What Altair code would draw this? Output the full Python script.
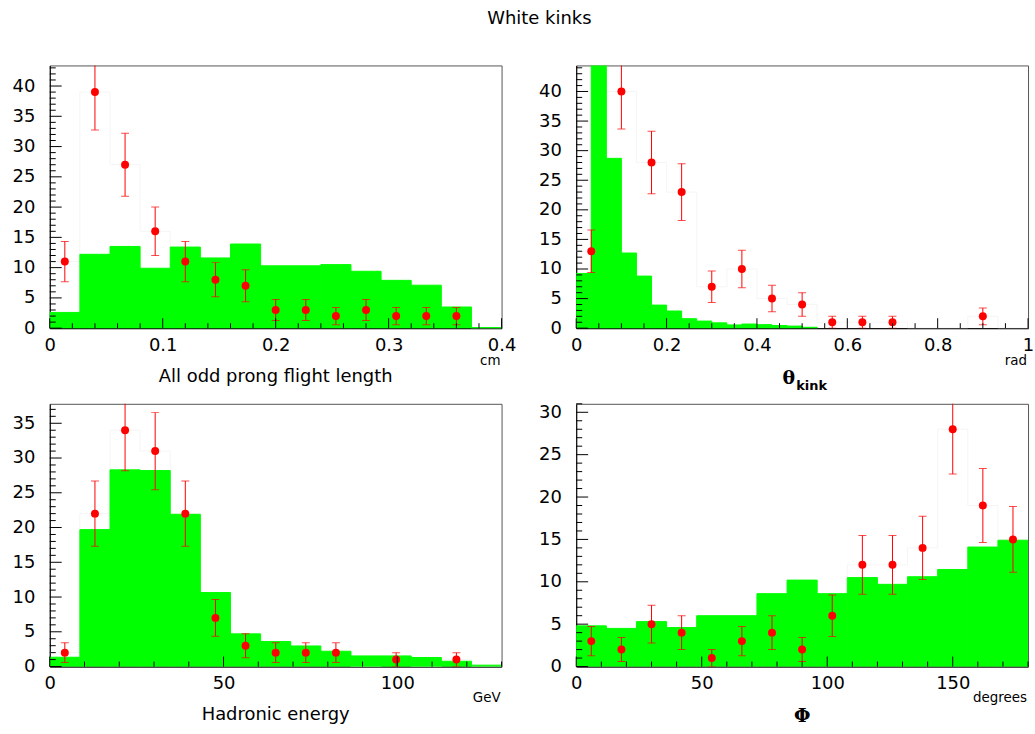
import altair as alt
import numpy as np
import pandas as pd

# ---------------- histogram contents ----------------
# All odd prong flight length (cm), 0 - 0.4
fl_range = 0.4
fl_mc = [2.6, 12.2, 13.5, 9.9, 13.4, 11.6, 13.9, 10.3, 10.3, 10.5, 9.4, 7.9, 7.1, 3.5, 0.1]
fl_data = [11, 39, 27, 16, 11, 8, 7, 3, 3, 2, 3, 2, 2, 2, 0]

# Kink angle (rad), 0 - 1
th_range = 1.0
th_mc = [9.25, 60.0, 28.7, 12.7, 8.8, 3.9, 2.9, 1.6, 1.2, 0.9,
         0.55, 0.7, 0.6, 0.45, 0.35, 0.15, 0, 0, 0, 0,
         0, 0, 0, 0, 0, 0, 0, 0, 0, 0]
th_data = [13, 40, 28, 23, 7, 10, 5, 4, 1, 1, 1, 0, 0, 2, 0]

# Hadronic energy (GeV), 0 - 130
he_range = 130.0
he_mc = [1.34, 19.7, 28.3, 28.2, 21.9, 10.65, 4.7, 3.6, 2.96, 2.2, 1.53, 1.53, 1.3, 0.76, 0.2]
he_data = [2, 22, 34, 31, 22, 7, 3, 2, 2, 2, 0, 1, 0, 1, 0]

# Phi (degrees), 0 - 180
ph_range = 180.0
ph_mc = [4.8, 4.5, 5.3, 4.6, 6.0, 6.0, 8.6, 10.2, 8.6, 10.5, 9.7, 10.6, 11.45, 14.1, 14.9]
ph_data = [3, 2, 5, 4, 1, 3, 4, 2, 6, 12, 12, 14, 28, 19, 15]

# axis tick labels
fl_xlabels = [0, 0.1, 0.2, 0.3, 0.4]
th_xlabels = [0, 0.2, 0.4, 0.6, 0.8, 1]
he_xlabels = [0, 50, 100]
ph_xlabels = [0, 50, 100, 150]

W, H = 454, 264
GREEN = "#00ff00"
RED = "#ff0000"
FONT = "DejaVu Sans"


def text(t, x, y, size, align="center", font=FONT, weight="normal"):
    return alt.Chart(pd.DataFrame({"t": [t]})).mark_text(
        align=align, baseline="alphabetic", font=font, fontSize=size,
        fontWeight=weight, color="black"
    ).encode(text="t:N", x=alt.value(x), y=alt.value(y))


def panel(xmax, ymax, mc, data, xlabels, ylabels, xmajor, xminor, extra):
    xs = alt.Scale(domain=[0, xmax], nice=False, zero=False)
    ys = alt.Scale(domain=[0, ymax], nice=False, zero=False)
    xax = alt.Axis(values=xlabels, format="~r", title=None, labelPadding=8)
    yax = alt.Axis(values=ylabels, format="~r", title=None, labelPadding=15)

    def X(f):
        return alt.X(f, type="quantitative", scale=xs, axis=xax)

    def Y(f):
        return alt.Y(f, type="quantitative", scale=ys, axis=yax)

    # simulated distribution (filled bins)
    e = np.linspace(0, xmax, len(mc) + 1)
    mdf = pd.DataFrame({"x0": e[:-1], "x1": e[1:], "v": mc})
    mdf = mdf[mdf.v > 0]
    fill = alt.Chart(mdf).mark_rect(color=GREEN, stroke=GREEN, strokeWidth=1, clip=True).encode(
        x=X("x0"), x2="x1", y=Y("v"), y2=alt.value(H))

    # data histogram outline (white)
    de = np.linspace(0, xmax, len(data) + 1)
    sdf = pd.DataFrame({"x": de, "v": list(data) + [data[-1]]})
    outline = alt.Chart(sdf).mark_line(interpolate="step-after", color="#f5f5f5",
                                       strokeWidth=1, clip=True).encode(x=X("x"), y=Y("v"))

    # data points with sqrt(N) errors
    d = np.array(data, dtype=float)
    pdf = pd.DataFrame({"xc": (de[:-1] + de[1:]) / 2, "n": d,
                        "lo": d - np.sqrt(d), "hi": d + np.sqrt(d)})
    pdf = pdf[pdf.n > 0]
    base = alt.Chart(pdf)
    err = base.mark_rule(color=RED, strokeWidth=1, clip=True).encode(x=X("xc"), y=Y("lo"), y2="hi")
    cap_hi = base.mark_tick(color=RED, orient="horizontal", size=8, thickness=1, clip=True).encode(
        x=X("xc"), y=Y("hi"))
    cap_lo = base.mark_tick(color=RED, orient="horizontal", size=8, thickness=1, clip=True).encode(
        x=X("xc"), y=Y("lo"))
    pts = base.mark_circle(color=RED, size=64, opacity=1, clip=True).encode(x=X("xc"), y=Y("n"))

    # inward ticks
    eps = 1e-9
    xmaj = [v for v in np.arange(0, xmax + eps, xmajor)]
    xmin = [v for v in np.arange(0, xmax + eps, xminor)
            if min(abs(v - m) for m in xmaj) > eps * 1e3]
    ymaj = list(np.arange(0, ymax + eps, 5.0))
    ymin = [v for v in np.arange(0, ymax + eps, 1.0) if v % 5 != 0]

    tick = dict(color="black", strokeWidth=1)
    t_xmaj = alt.Chart(pd.DataFrame({"t": xmaj})).mark_rule(**tick).encode(
        x=X("t"), y=alt.value(H), y2=alt.value(H - 10))
    t_xmin = alt.Chart(pd.DataFrame({"t": xmin})).mark_rule(**tick).encode(
        x=X("t"), y=alt.value(H), y2=alt.value(H - 5))
    t_ymaj = alt.Chart(pd.DataFrame({"t": ymaj})).mark_rule(**tick).encode(
        y=Y("t"), x=alt.value(0), x2=alt.value(12))
    t_ymin = alt.Chart(pd.DataFrame({"t": ymin})).mark_rule(**tick).encode(
        y=Y("t"), x=alt.value(0), x2=alt.value(6))

    layers = [outline, fill, err, cap_hi, cap_lo, pts, t_xmaj, t_xmin, t_ymaj, t_ymin] + extra
    return alt.layer(*layers).properties(width=W, height=H)


p1 = panel(fl_range, 43.4, fl_mc, fl_data, fl_xlabels, list(range(0, 45, 5)), 0.1, 0.02, [
    text("All odd prong flight length", W / 2, H + 54, 18),
    text("cm", W - 1, H + 37, 13.5, align="right"),
    text("White kinks", 492, -42, 18),
    alt.Chart(pd.DataFrame({"a": [0]})).mark_rule(color="white", strokeWidth=1).encode(
        x=alt.value(-48.8), x2=alt.value(-47.8), y=alt.value(-62.2), y2=alt.value(-62.2)),
])
p2 = panel(th_range, 44.4, th_mc, th_data, th_xlabels, list(range(0, 45, 5)), 0.2, 0.05, [
    text("θ", 213.5, H + 56, 19, font="DejaVu Serif", weight="bold"),
    text("kink", 221, H + 62, 13, align="left", weight="bold"),
    text("rad", W - 1, H + 37, 13.5, align="right"),
])
p3 = panel(he_range, 37.8, he_mc, he_data, he_xlabels, list(range(0, 40, 5)), 50, 10, [
    text("Hadronic energy", W / 2, H + 54, 18),
    text("GeV", W - 1, H + 36, 13.5, align="right"),
])
p4 = panel(ph_range, 31.0, ph_mc, ph_data, ph_xlabels, list(range(0, 35, 5)), 50, 10, [
    text("Φ", W / 2, H + 56, 19, font="DejaVu Serif", weight="bold"),
    text("degrees", W - 1, H + 36, 13.5, align="right"),
])

chart = alt.concat(p1, p2, p3, p4, columns=2, spacing={"row": 76, "column": 75},
                   bounds="flush").properties(padding=0).configure_view(
    stroke="#555555", strokeWidth=1
).configure_axis(
    labelFont=FONT, labelFontSize=18, labelColor="black", domainColor="black",
    domainWidth=1, ticks=False, tickSize=0, grid=False, labelFlush=False,
    labelOverlap=False, zindex=1
)

chart.save("out.html", embed_options={"renderer": "svg", "actions": False})
